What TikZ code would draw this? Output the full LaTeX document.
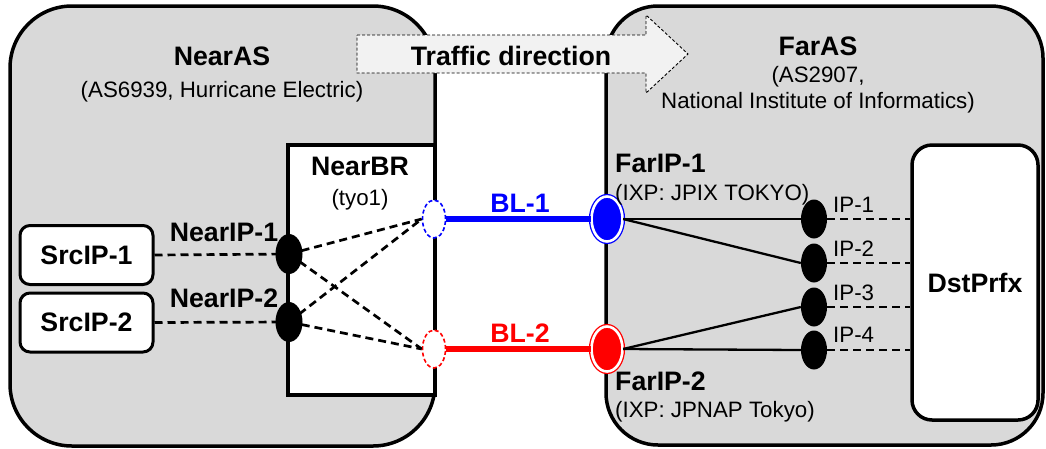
\documentclass[tikz,border=0pt]{standalone}
\usepackage{fontspec}
\setmainfont{Liberation Sans}
\usetikzlibrary{shapes.geometric}
\definecolor{asgray}{HTML}{D9D9D9}
\definecolor{arrowfill}{HTML}{F2F2F2}
\begin{document}
\begin{tikzpicture}[x=1pt,y=-1pt,
  asbox/.style={draw=black, line width=3.5pt, fill=asgray},
  whitebox/.style={draw=black, line width=3.5pt, fill=white, inner sep=0pt},
  srcbox/.style={draw=black, line width=3pt, fill=white, rounded corners=10pt,
    minimum width=133pt, minimum height=59pt, inner sep=0pt,
    font=\fontsize{26.7}{30}\selectfont\bfseries},
  blackip/.style={ellipse, fill=black, draw=none, inner sep=0pt},
  daship/.style={ellipse, dash pattern=on 4pt off 2.5pt, fill=white, line width=1.6pt, inner sep=0pt,
    minimum width=23pt, minimum height=38pt},
  farip/.style={ellipse, line width=1.3pt, double=white, double distance=2.6pt,
    inner sep=0pt, minimum width=31pt, minimum height=45pt},
  dashln/.style={draw=black, line width=2.7pt, dash pattern=on 8pt off 5pt},
  solidln/.style={draw=black, line width=2.3pt},
  btitle/.style={inner sep=0pt, font=\fontsize{26.7}{30}\selectfont\bfseries},
  rtext/.style={inner sep=0pt, font=\fontsize{22.3}{26}\selectfont},
]
\useasboundingbox (0,0) rectangle (1046,448);

% autonomous systems
\draw[asbox, rounded corners=62pt] (10,6) rectangle (435,446);
\draw[asbox, rounded corners=52pt] (606,6) rectangle (1043,445);

% traffic direction arrow
\draw[draw=black, line width=0.9pt, dash pattern=on 3pt off 2pt, fill=arrowfill]
  (357,35) -- (646,35) -- (646,15) -- (688,54) -- (646,93) -- (646,73) -- (357,73) -- cycle;
\node[btitle, anchor=base] (traffic) at (511,65) {Traffic direction};

% titles
\node[btitle, anchor=base] (nearas) at (222,65) {NearAS};
\node[rtext, anchor=base] (nearassub) at (222,97) {(AS6939, Hurricane Electric)};
\node[btitle, anchor=base] (faras) at (818,55) {FarAS};
\node[rtext, anchor=base] (farassub1) at (818,82) {(AS2907,};
\node[rtext, anchor=base] (farassub2) at (818,108) {National Institute of Informatics)};

% NearBR
\node[whitebox, minimum width=147pt, minimum height=250pt] (nearbr) at (361.5,270) {};
\node[btitle, anchor=base] (nearbrlbl) at (360,175) {NearBR};
\node[rtext, anchor=base] (nearbrsub) at (360,205) {(tyo1)};

% sources
\node[srcbox] (src1) at (86.5,255) {SrcIP-1};
\node[srcbox] (src2) at (86.5,322.5) {SrcIP-2};

% DstPrfx
\node[whitebox, rounded corners=20pt, minimum width=126pt, minimum height=275pt,
  font=\fontsize{26.7}{30}\selectfont\bfseries] (dst) at (975,282.5) {DstPrfx};

% near IP coordinates for connectors
\coordinate (nip1c) at (289,254);
\coordinate (nip2c) at (289,322);
\node[daship, draw=blue] (dl1) at (434,219) {};
\node[daship, draw=red] (dl2) at (434,349) {};
\node[farip, draw=blue, fill=blue] (fip1) at (607,219) {};
\node[farip, draw=red, fill=red] (fip2) at (607,349) {};

% connectors near side
\draw[dashln] (src1.east) -- (nip1c);
\draw[dashln] (src2.east) -- (nip2c);
\draw[dashln] (nip1c) -- (dl1.west);
\draw[dashln] (nip1c) -- (dl2.west);
\draw[dashln] (nip2c) -- (dl1.west);
\draw[dashln] (nip2c) -- (dl2.west);

\node[blackip, minimum width=27pt, minimum height=40pt] (nip1) at (nip1c) {};
\node[blackip, minimum width=27pt, minimum height=40pt] (nip2) at (nip2c) {};
\node[btitle, anchor=base] (nip1lbl) at (224,241) {NearIP-1};
\node[btitle, anchor=base] (nip2lbl) at (224,307) {NearIP-2};

% border links
\draw[blue, line width=6.5pt] (dl1.east) -- (fip1.west);
\draw[red, line width=6.5pt] (dl2.east) -- (fip2.west);
\node[btitle, anchor=base, text=blue] (bl1) at (520,212) {BL-1};
\node[btitle, anchor=base, text=red] (bl2) at (520,342) {BL-2};

% far IPs
\node[blackip, minimum width=26pt, minimum height=39pt] (ip1) at (814,219) {};
\node[blackip, minimum width=26pt, minimum height=39pt] (ip2) at (814,263) {};
\node[blackip, minimum width=26pt, minimum height=39pt] (ip3) at (814,307) {};
\node[blackip, minimum width=26pt, minimum height=39pt] (ip4) at (814,350) {};

\draw[solidln] (fip1.east) -- (ip1.west);
\draw[solidln] (fip1.east) -- (ip2.west);
\draw[solidln] (fip2.east) -- (ip3.west);
\draw[solidln] (fip2.east) -- (ip4.west);

\draw[dashln] (ip1.east) -- (dst.west |- ip1);
\draw[dashln] (ip2.east) -- (dst.west |- ip2);
\draw[dashln] (ip3.east) -- (dst.west |- ip3);
\draw[dashln] (ip4.east) -- (dst.west |- ip4);

\node[rtext, anchor=base west] (ip1lbl) at (833,212) {IP-1};
\node[rtext, anchor=base west] (ip2lbl) at (833,256) {IP-2};
\node[rtext, anchor=base west] (ip3lbl) at (833,300) {IP-3};
\node[rtext, anchor=base west] (ip4lbl) at (833,342) {IP-4};

\node[btitle, anchor=base west] (fip1lbl) at (615,172) {FarIP-1};
\node[rtext, anchor=base west] (fip1sub) at (615,200) {(IXP: JPIX TOKYO)};
\node[btitle, anchor=base west] (fip2lbl) at (615,390) {FarIP-2};
\node[rtext, anchor=base west] (fip2sub) at (615,417) {(IXP: JPNAP Tokyo)};
\end{tikzpicture}
\end{document}
